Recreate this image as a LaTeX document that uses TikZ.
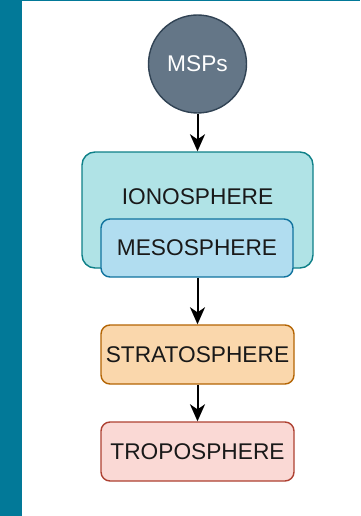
\documentclass[tikz,border=0pt]{standalone}
\usepackage{fontspec}
\setmainfont{Liberation Sans}
\usetikzlibrary{arrows.meta}
\definecolor{barc}{RGB}{2,121,152}
\definecolor{mspfill}{HTML}{647687}
\definecolor{mspdraw}{HTML}{314354}
\definecolor{ionfill}{HTML}{B0E3E6}
\definecolor{iondraw}{HTML}{0E8088}
\definecolor{mesofill}{HTML}{B1DDF0}
\definecolor{mesodraw}{HTML}{10739E}
\definecolor{stratfill}{HTML}{FAD7AC}
\definecolor{stratdraw}{HTML}{B46504}
\definecolor{tropfill}{HTML}{FAD9D5}
\definecolor{tropdraw}{HTML}{AE4132}
\tikzset{
  lbl/.style={font=\fontsize{22.7}{27}\selectfont, text=black!90},
  layer/.style={lbl, draw, line width=1.4pt, rounded corners=9pt, inner sep=0pt, minimum width=193pt, minimum height=59pt},
  arr/.style={line width=2pt, -{Stealth[length=17pt,width=15pt,inset=5pt]}}
}
\begin{document}
\begin{tikzpicture}[x=1pt,y=-1pt]
\useasboundingbox (0,0) rectangle (360,516);
\fill[white] (0,0) rectangle (360,516);
\fill[barc] (0,0) rectangle (22,516);
\fill[barc] (22,0) rectangle (360,1.3);
\node[circle, minimum size=98pt, inner sep=0pt, fill=mspfill, draw=mspdraw, line width=1.4pt, lbl, text=white] (msp) at (197.5,64) {MSPs};
\node[draw=iondraw, fill=ionfill, line width=1.4pt, rounded corners=13pt, minimum width=231pt, minimum height=116pt, inner sep=0pt] (iono) at (197.5,210) {};
\node[lbl] (ionolbl) at (197.5,197) {IONOSPHERE};
\node[layer, draw=mesodraw, fill=mesofill, minimum width=192pt, minimum height=58pt] (meso) at (197,248) {MESOSPHERE};
\node[layer, draw=stratdraw, fill=stratfill] (strat) at (197.5,354.5) {STRATOSPHERE};
\node[layer, draw=tropdraw, fill=tropfill] (trop) at (197.5,451.5) {TROPOSPHERE};
\draw[arr] (msp) -- (iono);
\draw[arr] (meso.south -| strat.north) -- (strat);
\draw[arr] (strat) -- (trop);
\end{tikzpicture}
\end{document}
